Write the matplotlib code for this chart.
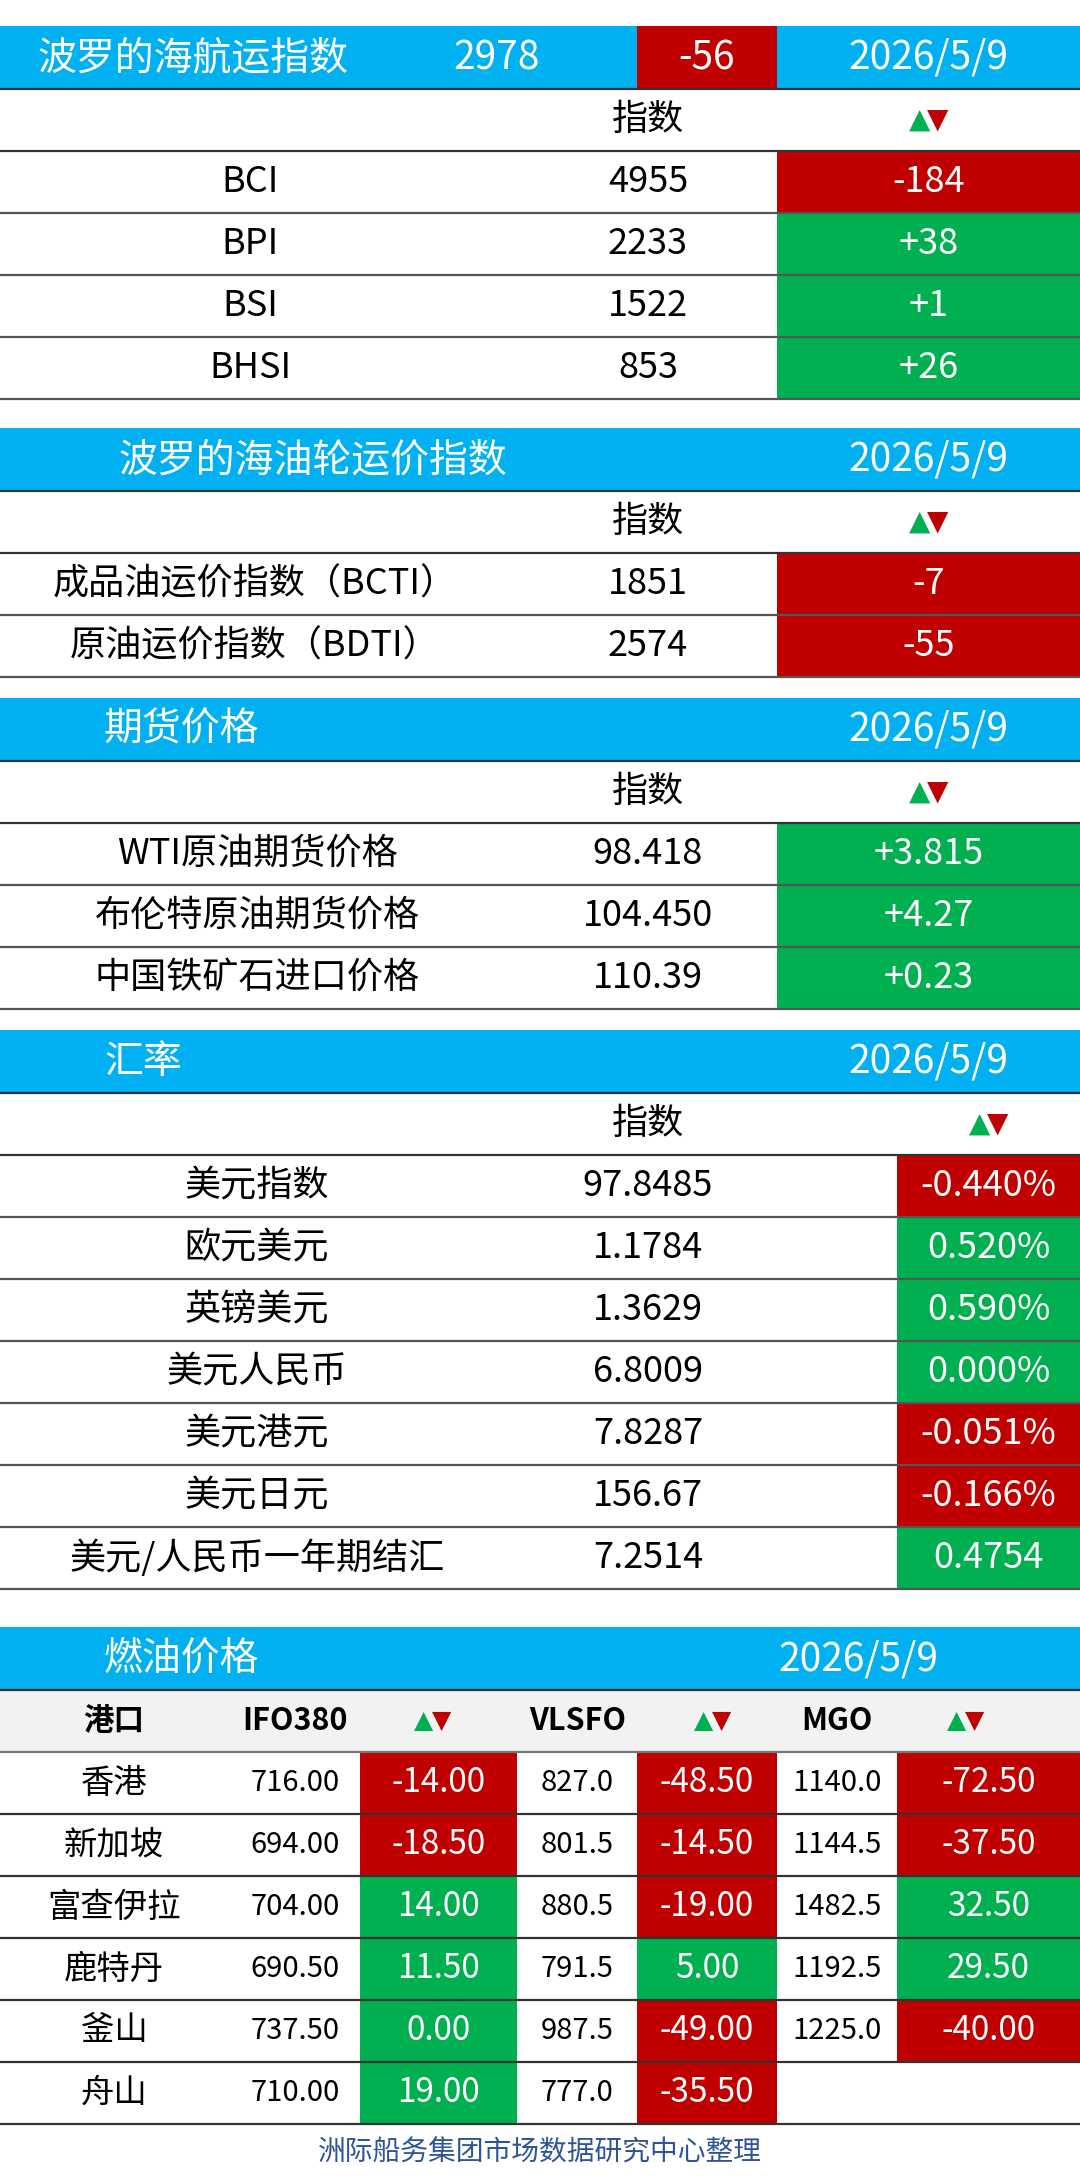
import matplotlib.pyplot as plt
from matplotlib.patches import Rectangle

plt.rcParams['font.family'] = ['Noto Sans CJK SC', 'DejaVu Sans']

BLUE = '#00B0F0'
RED = '#C00000'
GREEN = '#00B050'

date = '2026/5/9'

# 波罗的海航运指数
bdi_value, bdi_change = '2978', '-56'
dry_names = ['BCI', 'BPI', 'BSI', 'BHSI']
dry_values = ['4955', '2233', '1522', '853']
dry_changes = ['-184', '+38', '+1', '+26']

# 油轮
tank_names = ['成品油运价指数（BCTI）', '原油运价指数（BDTI）']
tank_values = ['1851', '2574']
tank_changes = ['-7', '-55']

# 期货
fut_names = ['WTI原油期货价格', '布伦特原油期货价格', '中国铁矿石进口价格']
fut_values = ['98.418', '104.450', '110.39']
fut_changes = ['+3.815', '+4.27', '+0.23']

# 汇率
fx_names = ['美元指数', '欧元美元', '英镑美元', '美元人民币', '美元港元', '美元日元', '美元/人民币一年期结汇']
fx_values = ['97.8485', '1.1784', '1.3629', '6.8009', '7.8287', '156.67', '7.2514']
fx_changes = ['-0.440%', '0.520%', '0.590%', '0.000%', '-0.051%', '-0.166%', '0.4754']

# 燃油
ports = ['香港', '新加坡', '富查伊拉', '鹿特丹', '釜山', '舟山']
ifo = ['716.00', '694.00', '704.00', '690.50', '737.50', '710.00']
ifo_chg = ['-14.00', '-18.50', '14.00', '11.50', '0.00', '19.00']
vlsfo = ['827.0', '801.5', '880.5', '791.5', '987.5', '777.0']
vlsfo_chg = ['-48.50', '-14.50', '-19.00', '5.00', '-49.00', '-35.50']
mgo = ['1140.0', '1144.5', '1482.5', '1192.5', '1225.0', '']
mgo_chg = ['-72.50', '-37.50', '32.50', '29.50', '-40.00', '']

fig = plt.figure(figsize=(10.8, 21.8), dpi=100)
ax = fig.add_axes([0, 0, 1, 1])
ax.set_xlim(0, 1080)
ax.set_ylim(2180, 0)
ax.axis('off')

RH = 62
FS = 26


def rect(x0, y0, x1, y1, c):
    ax.add_patch(Rectangle((x0, y0), x1 - x0, y1 - y0, color=c, lw=0))


def hline(y, x0=0, x1=1080, c='#333333'):
    ax.plot([x0, x1], [y, y], color=c, lw=1.6)


def txt(x, y, s, c='black', fs=FS, ha='center', **kw):
    ax.text(x, y, s, color=c, fontsize=fs, ha=ha, va='center', **kw)


def arrows(x, y, fs=20):
    txt(x - 9, y, '▲', GREEN, fs, family='DejaVu Sans')
    txt(x + 9, y, '▼', RED, fs, family='DejaVu Sans')


def chg_color(s):
    return RED if s.startswith('-') else GREEN


def section(y, title, title_x, title_ha, names, values, changes,
            cx0=777, label_x=255, date_x=928):
    rect(0, y, 1080, y + 63, BLUE)
    txt(title_x, y + 32, title, 'white', 28, ha=title_ha)
    txt(date_x, y + 32, date, 'white', 28)
    hline(y + 63)
    y += 63
    txt(648, y + 31, '指数')
    arrows((cx0 + 1080) / 2, y + 31)
    hline(y + RH)
    y += RH
    for n, v, c in zip(names, values, changes):
        rect(cx0, y, 1080, y + RH, chg_color(c))
        txt(label_x, y + 31, n)
        txt(648, y + 31, v)
        txt((cx0 + 1080) / 2, y + 31, c, 'white')
        hline(y + RH, c='#555555')
        y += RH
    return y


# section 1 header has extra numbers
y0 = 26
section(y0, '波罗的海航运指数', 38, 'left', dry_names, dry_values, dry_changes,
        label_x=250)
rect(637, y0, 777, y0 + 63, RED)
txt(497, y0 + 32, bdi_value, 'white', 28)
txt(707, y0 + 32, bdi_change, 'white', 28)

section(428, '波罗的海油轮运价指数', 313, 'center', tank_names, tank_values, tank_changes)
section(698, '期货价格', 104, 'left', fut_names, fut_values, fut_changes, label_x=257)
section(1030, '汇率', 104, 'left', fx_names, fx_values, fx_changes, cx0=897, label_x=257)

# 燃油价格
y = 1627
rect(0, y, 1080, y + 63, BLUE)
txt(104, y + 32, '燃油价格', 'white', 28, ha='left')
txt(858, y + 32, date, 'white', 28)
hline(y + 63)
y += 63
rect(0, y, 1080, y + RH, '#F2F2F2')
txt(114, y + 31, '港口', fs=22, weight='bold')
txt(295, y + 31, 'IFO380', fs=22, weight='bold')
txt(578, y + 31, 'VLSFO', fs=22, weight='bold')
txt(837, y + 31, 'MGO', fs=22, weight='bold')
for ax_x in [433, 713, 966]:
    arrows(ax_x, y + 31, 18)
hline(y + RH, c='#777777')
y += RH
cols = [(360, 517), (637, 777), (897, 1080)]
for i, p in enumerate(ports):
    chgs = [ifo_chg[i], vlsfo_chg[i], mgo_chg[i]]
    for (x0, x1), c in zip(cols, chgs):
        if c:
            rect(x0, y, x1, y + RH, chg_color(c))
            txt((x0 + x1) / 2, y + 31, c, 'white', 24)
    txt(114, y + 31, p, fs=24)
    txt(295, y + 31, ifo[i], fs=21)
    txt(577, y + 31, vlsfo[i], fs=21)
    txt(837, y + 31, mgo[i], fs=21)
    hline(y + RH, c='#333333')
    y += RH
txt(540, 2153, '洲际船务集团市场数据研究中心整理', '#2F5597', 20)

fig.savefig('out.png', dpi=100)
